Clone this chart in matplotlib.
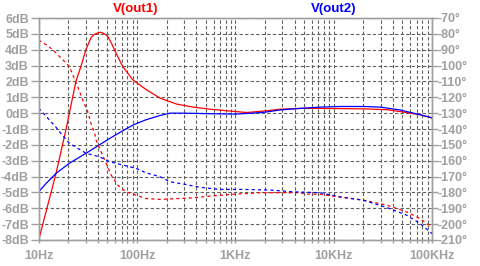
import numpy as np
import matplotlib
matplotlib.use("Agg")
import matplotlib.pyplot as plt
from matplotlib.ticker import LogLocator, FixedLocator, NullFormatter

# --- data ---
# V(out1) magnitude (dB)
f_mag1 = [10, 15, 19, 23.9, 26.9, 30.2, 34, 36.5, 39.8, 43, 46.5, 50.3, 55, 61, 71.4,
          90.5, 123, 171, 253, 374, 553, 818, 1306, 2086, 2848, 4550, 7270, 20000,
          34660, 47400, 75700, 100000]
mag1 = [-8.0, -3.8, -1.0, 2.0, 2.95, 4.0, 4.75, 4.95, 5.06, 5.1, 5.0, 4.85, 4.4, 3.8, 2.95,
        2.1, 1.5, 0.95, 0.57, 0.38, 0.25, 0.15, 0.04, 0.15, 0.25, 0.3, 0.3, 0.27,
        0.22, 0.1, -0.1, -0.3]

# V(out1) phase (deg)
f_ph1 = [10, 11.9, 13.9, 15.6, 18.2, 20.5, 22.2, 24.9, 28, 31.5, 34.8, 36.8, 38.3, 43,
         48.5, 54.5, 63.7, 77.3, 97.6, 123, 171, 374, 553, 1016, 1412, 1784, 4550,
         5322, 7270, 20050, 34660, 55460, 75700, 95700, 100000]
ph1 = [-84, -86.8, -90, -93.1, -97.3, -100.5, -105.8, -113.2, -121.6, -129, -138.5,
       -141.6, -146.9, -154.3, -161.6, -169, -175.4, -179.6, -181.7, -183.8, -184.4,
       -183.4, -182.3, -181, -180.6, -180.2, -180.2, -181, -181.2, -184.9, -188,
       -192.3, -196.5, -201.3, -202]

# V(out2) magnitude (dB)
f_mag2 = [10, 11.9, 15, 20.5, 30.3, 41.4, 56.6, 74, 91.7, 123, 171, 217, 300, 500,
          1000, 1500, 2000, 2848, 4550, 7270, 11600, 20050, 30000, 47400, 75700, 100000]
mag2 = [-4.96, -4.43, -3.8, -3.16, -2.53, -2.0, -1.48, -1.06, -0.74, -0.42, -0.15, 0.0,
        0.0, -0.03, -0.06, 0.0, 0.06, 0.2, 0.3, 0.38, 0.42, 0.42, 0.38, 0.2, -0.1, -0.3]

# V(out2) phase (deg)
f_ph2 = [10, 12.8, 15, 16.2, 20.5, 30.3, 41.4, 52.4, 71.4, 97.6, 123, 171, 217, 296,
         438, 699, 1197, 2252, 3890, 7270, 11610, 20050, 34660, 55460, 75700, 100000]
ph2 = [-126.8, -134.2, -138.9, -141.6, -149, -155.3, -157.5, -160.6, -162.7, -164.8,
       -167.6, -170.1, -173.3, -174.7, -176.8, -178.1, -178.1, -178.5, -179.6, -180.2,
       -182.8, -184.9, -189.5, -194.4, -199.6, -206]

db_ticks = list(range(-8, 7))
deg_ticks = list(range(-210, -69, 10))
x_ticks = [10, 100, 1000, 10000, 100000]
x_labels = ["10Hz", "100Hz", "1KHz", "10KHz", "100KHz"]

GRAY = "#a0a0a0"
GRID = "#606060"
RED = "#ff0000"
BLUE = "#0000ff"

plt.rcParams["font.family"] = ["Liberation Sans", "DejaVu Sans"]
plt.rcParams["font.weight"] = "bold"

fig = plt.figure(figsize=(4.81, 2.66), dpi=100)
ax = fig.add_axes([38.7 / 481, 26 / 266, (432 - 38.7) / 481, (240 - 18) / 266])
ax2 = ax.twinx()

ax.set_xscale("log")
ax.set_xlim(10, 100000)
ax.set_ylim(-8, 6)
ax2.set_ylim(-210, -70)

# grid
ax.xaxis.set_major_locator(FixedLocator(x_ticks))
ax.xaxis.set_minor_locator(LogLocator(base=10, subs=np.arange(2, 10)))
ax.xaxis.set_minor_formatter(NullFormatter())
ax.set_xticklabels(x_labels)
ax.set_yticks(db_ticks)
ax.set_yticklabels([f"{v}dB" for v in db_ticks])
ax2.set_yticks(deg_ticks)
ax2.set_yticklabels([f"{v}\u00b0" for v in deg_ticks])

gl = dict(color=GRID, linestyle=(0, (3, 2)), linewidth=0.8)
ax.grid(True, which="both", axis="x", **gl)
ax.grid(True, which="major", axis="y", **gl)

for a in (ax, ax2):
    for s in a.spines.values():
        s.set_color(GRAY)
        s.set_linewidth(1.0)

ax.tick_params(axis="y", which="major", length=6, width=1, color=GRAY, pad=1,
               labelcolor=GRAY, labelsize=9)
ax.tick_params(axis="x", which="both", length=2.5, width=1, color=GRAY, pad=5,
               labelcolor=GRAY, labelsize=9)
ax2.tick_params(axis="y", which="major", length=4, width=1, color=GRAY, pad=0,
                labelcolor=GRAY, labelsize=9)

# curves
lw = 0.9
ax.plot(f_mag1, mag1, color=RED, linewidth=lw, zorder=3)
ax.plot(f_mag2, mag2, color=BLUE, linewidth=lw, zorder=3)
ax2.plot(f_ph1, ph1, color=RED, linewidth=lw, linestyle=(0, (2.5, 2.5)))
ax2.plot(f_ph2, ph2, color=BLUE, linewidth=lw, linestyle=(0, (2.5, 2.5)))

fig.text(136 / 481, 1 - 9 / 266, "V(out1)", color=RED, fontsize=9.5,
         ha="center", va="center")
fig.text(333.5 / 481, 1 - 9 / 266, "V(out2)", color=BLUE, fontsize=9.5,
         ha="center", va="center")

fig.savefig("out.png", dpi=100, facecolor="white")
